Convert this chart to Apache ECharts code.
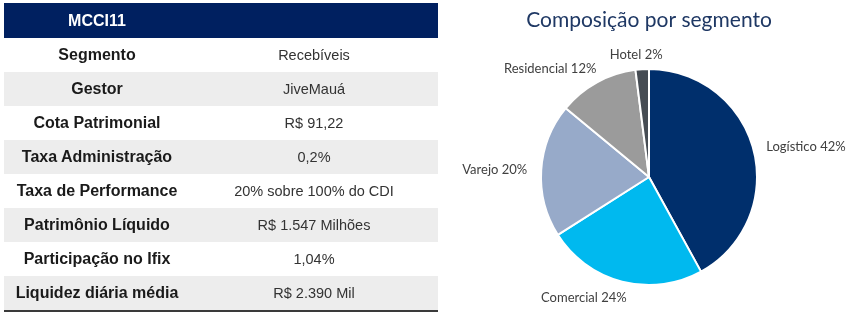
<!DOCTYPE html>
<html>
<head>
<meta charset="utf-8">
<script src="https://cdn.jsdelivr.net/npm/echarts@6/dist/echarts.min.js"></script>
<style>
  html, body { margin: 0; padding: 0; background: #fff; }
  #wrap { position: relative; width: 850px; height: 316px; overflow: hidden; }
  #chart { position: absolute; left: 0; top: 0; width: 850px; height: 316px; }
  table {
    position: absolute; left: 4px; top: 3px; width: 434px;
    border-collapse: collapse; font-family: "Liberation Sans", Arial, sans-serif;
  }
  td { height: 34px; padding: 0; text-align: center; color: #262626; }
  td.k { width: 186px; font-weight: bold; font-size: 16px; color: #1a1a1a; }
  td.v { font-size: 14.5px; color: #333; }
  tr.head td { height: 35px; background: #002060; color: #fff; font-weight: bold; font-size: 16px; }
  tr.alt td { background: #ededed; }
  tr.last td { border-bottom: 2px solid #3a3a3a; }
</style>
</head>
<body>
<div id="wrap">
  <div id="chart"></div>
  <table id="tbl"></table>
</div>
<script>
// tabela do fundo
var fundo = 'MCCI11';
var campos = ['Segmento', 'Gestor', 'Cota Patrimonial', 'Taxa Administração', 'Taxa de Performance',
              'Patrimônio Líquido', 'Participação no Ifix', 'Liquidez diária média'];
var valores = ['Recebíveis', 'JiveMauá', 'R$ 91,22', '0,2%', '20% sobre 100% do CDI',
               'R$ 1.547 Milhões', '1,04%', 'R$ 2.390 Mil'];

// pizza
var segmentos = ['Logístico', 'Comercial', 'Varejo', 'Residencial', 'Hotel'];
var percentuais = [42, 24, 20, 12, 2];
var cores = ['#002f6c', '#00b9ef', '#97aac9', '#9b9b9b', '#464c53'];

var html = '<tr class="head"><td class="k">' + fundo + '</td><td></td></tr>';
for (var i = 0; i < campos.length; i++) {
    var cls = (i % 2 === 1 ? 'alt' : '') + (i === campos.length - 1 ? ' last' : '');
    html += '<tr class="' + cls + '"><td class="k">' + campos[i] + '</td><td class="v">' + valores[i] + '</td></tr>';
}
document.getElementById('tbl').innerHTML = html;

var myChart = echarts.init(document.getElementById('chart'), null, { renderer: 'canvas' });

var dados = [];
for (var j = 0; j < segmentos.length; j++) {
    dados.push({ name: segmentos[j], value: percentuais[j], itemStyle: { color: cores[j] } });
}

// ajuste fino dos rotulos (dx, dy) por fatia
var ajustes = { 0: [-6, -1], 1: [16, 7], 3: [10, -5], 4: [30, -4] };

var option = {
    animation: false,
    title: {
        text: 'Composição por segmento',
        left: 644, top: 5, textAlign: 'center',
        textStyle: { fontFamily: 'Lato', fontWeight: 'normal', fontSize: 21, color: '#1f3864' }
    },
    series: [{
        type: 'pie',
        center: [649, 177],
        radius: 108,
        startAngle: 90,
        clockwise: true,
        data: dados,
        itemStyle: { borderColor: '#fff', borderWidth: 2 },
        label: {
            show: true,
            formatter: '{b} {c}%',
            overflow: 'none',
            fontFamily: 'Lato', fontSize: 13, color: '#404040'
        },
        labelLine: { show: false, length: 10, length2: 4 },
        labelLayout: function (p) {
            var a = ajustes[p.dataIndex];
            return a ? { dx: a[0], dy: a[1] } : {};
        }
    }]
};
myChart.setOption(option);
</script>
</body>
</html>
